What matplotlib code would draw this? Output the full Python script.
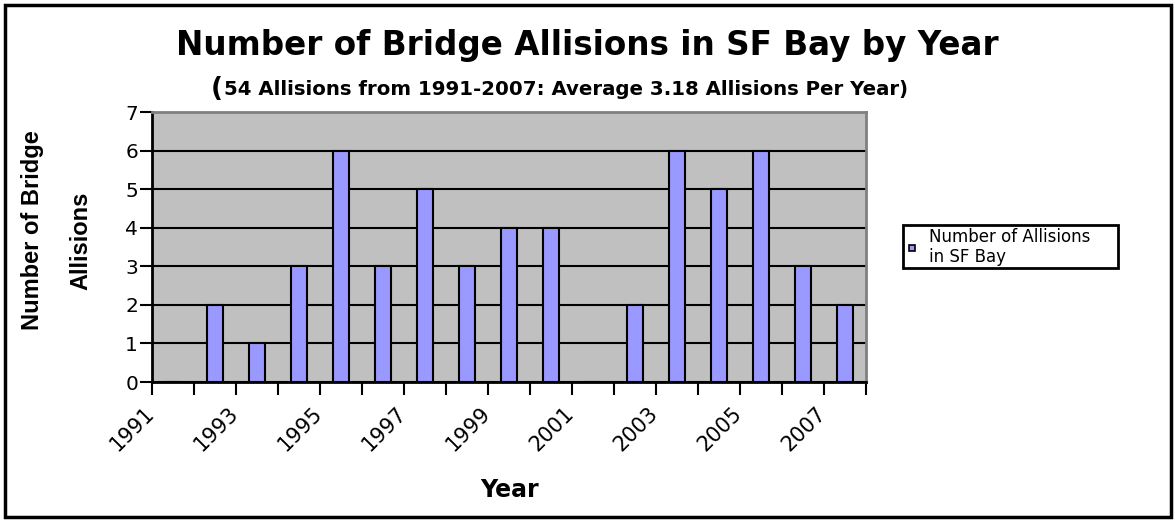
import matplotlib
matplotlib.use("Agg")
import matplotlib.pyplot as plt
from matplotlib.patches import Rectangle
from matplotlib.lines import Line2D
import matplotlib.transforms as mtransforms

plt.rcParams['font.family'] = ['DejaVu Sans']

years = list(range(1991, 2008))
allisions = [0, 2, 1, 3, 6, 3, 5, 3, 4, 4, 0, 2, 6, 5, 6, 3, 2]
tick_years = [str(y) if (y - 1991) % 2 == 0 else "" for y in years]
title = "Number of Bridge Allisions in SF Bay by Year"
subtitle = "54 Allisions from 1991-2007: Average 3.18 Allisions Per Year)"
ylabel_lines = ["Number of Bridge", "Allisions"]
xlabel = "Year"
legend_label = "Number of Allisions\nin SF Bay"

W, H = 1175, 520
fig = plt.figure(figsize=(W / 100, H / 100), dpi=100)

def fx(px):
    return px / W

def fy(py):
    return 1 - py / H

ax = fig.add_axes([fx(152), fy(382), fx(866) - fx(152), fy(112) - fy(382)])
ax.set_facecolor('#C0C0C0')

pos = [i + 0.5 for i in range(len(years))]
ax.bar(pos, allisions, width=0.38, color='#9999FF', edgecolor='black',
       linewidth=1.5, zorder=3, label=legend_label)

ax.set_xlim(0, len(years))
ax.set_ylim(0, 7)
ax.set_yticks(range(0, 8))
ax.set_yticklabels([str(i) for i in range(0, 8)], fontsize=14.5)
ax.set_xticks(range(len(years) + 1))
ax.set_xticklabels(tick_years + [""], fontsize=15, rotation=45, ha='right',
                   va='top', rotation_mode='anchor')
ax.tick_params(axis='x', length=9, width=1.5, pad=6, direction='out')
ax.tick_params(axis='y', length=9, width=1.5, pad=1, direction='out')
shift = mtransforms.ScaledTranslation(-8 / 100, 0, fig.dpi_scale_trans)
for lbl in ax.get_xticklabels():
    lbl.set_transform(lbl.get_transform() + shift)

ax.yaxis.grid(True, color='black', linewidth=1.5, zorder=1)
ax.set_axisbelow(True)
for s in ['left', 'bottom']:
    ax.spines[s].set_color('black')
    ax.spines[s].set_linewidth(2)
for s in ['top', 'right']:
    ax.spines[s].set_color('#808080')
    ax.spines[s].set_linewidth(2)

# Titles
fig.text(fx(587), fy(55), title, fontsize=23.5, fontweight='bold',
         ha='center', va='baseline')
fig.text(fx(211), fy(96), "(", fontsize=19, fontweight='bold',
         ha='left', va='baseline')
fig.text(fx(224), fy(95), subtitle, fontsize=14.2, fontweight='bold',
         ha='left', va='baseline')

# Axis labels
fig.text(fx(33), fy(230), ylabel_lines[0], fontsize=17, fontweight='bold',
         family=['Liberation Sans'], rotation=90, ha='center', va='center')
fig.text(fx(81), fy(241), ylabel_lines[1], fontsize=17, fontweight='bold',
         family=['Liberation Sans'], rotation=90, ha='center', va='center')
fig.text(fx(510), fy(497), xlabel, fontsize=17, fontweight='bold',
         ha='center', va='baseline')

# Legend
handle = Line2D([], [], linestyle='none', marker='s', markersize=5,
                markerfacecolor='#9999FF', markeredgecolor='black',
                markeredgewidth=1.2, label=legend_label)
leg = fig.legend(handles=[handle], loc='upper left',
                 bbox_to_anchor=(fx(903), fy(225), fx(1118) - fx(903), 0.0),
                 mode='expand', fontsize=12, frameon=True, fancybox=False,
                 framealpha=1, handlelength=0.8, handletextpad=0.6,
                 borderpad=0.15, borderaxespad=0, labelspacing=0.1)
leg.get_frame().set_edgecolor('black')
leg.get_frame().set_linewidth(2)
for t in leg.get_texts():
    t.set_linespacing(1.15)

# Figure border
fig.patches.append(Rectangle((fx(5), fy(517)), fx(1171) - fx(5), fy(5) - fy(517),
                             transform=fig.transFigure, fill=False,
                             edgecolor='black', linewidth=2.5))

fig.savefig('out.png', dpi=100)
